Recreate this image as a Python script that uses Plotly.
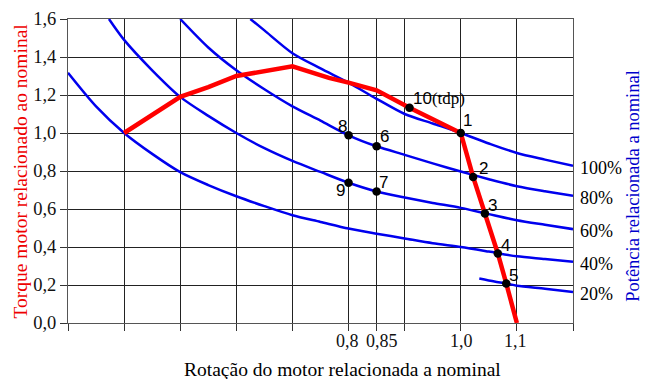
import plotly.graph_objects as go

# ---- data ----
rot_100 = [0.625, 0.65, 0.7, 0.75, 0.8, 0.85, 0.9, 0.95, 1.0, 1.05, 1.1, 1.15, 1.2]
torque_100 = [1.6, 1.54, 1.42, 1.34, 1.265, 1.18, 1.10, 1.05, 1.0, 0.945, 0.895, 0.86, 0.827]

rot_80 = [0.5, 0.55, 0.6, 0.65, 0.7, 0.75, 0.8, 0.85, 0.9, 0.95, 1.0, 1.05, 1.1, 1.15, 1.2]
torque_80 = [1.6, 1.45, 1.33, 1.23, 1.14, 1.065, 0.988, 0.93, 0.885, 0.84, 0.797, 0.757, 0.72, 0.693, 0.669]

rot_60 = [0.373, 0.4, 0.45, 0.5, 0.55, 0.6, 0.65, 0.7, 0.75, 0.8, 0.85, 0.9, 0.95, 1.0, 1.05, 1.1, 1.15, 1.2]
torque_60 = [1.6, 1.49, 1.33, 1.19, 1.09, 1.0, 0.92, 0.853, 0.795, 0.738, 0.692, 0.66, 0.632, 0.606, 0.573, 0.541, 0.517, 0.494]

rot_40 = [0.3, 0.35, 0.4, 0.45, 0.5, 0.55, 0.6, 0.65, 0.7, 0.75, 0.8, 0.85, 0.9, 0.95, 1.0, 1.05, 1.1, 1.15, 1.2]
torque_40 = [1.317, 1.14, 1.0, 0.89, 0.794, 0.726, 0.667, 0.615, 0.567, 0.532, 0.497, 0.47, 0.445, 0.42, 0.40, 0.376, 0.351, 0.337, 0.322]

rot_20 = [1.033, 1.06, 1.081, 1.1, 1.15, 1.2]
torque_20 = [0.234, 0.218, 0.208, 0.196, 0.18, 0.163]

power_curves = [
    ("100%", rot_100, torque_100),
    ("80%", rot_80, torque_80),
    ("60%", rot_60, torque_60),
    ("40%", rot_40, torque_40),
    ("20%", rot_20, torque_20),
]

red_rot = [0.4, 0.5, 0.55, 0.6, 0.7, 0.765, 0.8, 0.85, 0.9086, 1.0, 1.022, 1.043, 1.066, 1.081, 1.1]
red_torque = [1.0, 1.19, 1.242, 1.30, 1.351, 1.29, 1.265, 1.225, 1.133, 1.0, 0.769, 0.576, 0.366, 0.208, 0.0]

pt_labels = ["1", "2", "3", "4", "5", "6", "7", "8", "9", "10(tdp)"]
pt_rot = [1.0, 1.022, 1.043, 1.066, 1.081, 0.85, 0.85, 0.8, 0.8, 0.9086]
pt_torque = [1.0, 0.769, 0.576, 0.366, 0.208, 0.93, 0.692, 0.988, 0.738, 1.133]

x_tickvals = [0.3, 0.4, 0.5, 0.6, 0.7, 0.8, 0.85, 0.9, 1.0, 1.1, 1.2]
x_ticktext = ["", "", "", "", "", "0,8", "0,85", "", "1,0", "1,1", ""]
# small horizontal nudges (px) of x tick labels as seen in the reference
x_tick_nudge = {"0,8": -1, "0,85": 5, "1,0": 1, "1,1": -1}

# label offsets (px) for point numbers
label_offsets = {
    "1": (7, 13), "2": (10, 8), "3": (8, 8), "4": (8, 8), "5": (7, 8),
    "6": (8, 10), "7": (7, 9), "8": (-6, 9), "9": (-8, -8),
}

SERIF = "Liberation Serif"
SANS = "Liberation Sans"

fig = go.Figure()

for name, xs, ys in power_curves:
    fig.add_trace(go.Scatter(x=xs, y=ys, mode="lines", name=name,
                             line=dict(color="#0000ee", width=2.5, shape="spline", smoothing=0.8),
                             hoverinfo="skip"))

fig.add_trace(go.Scatter(x=red_rot, y=red_torque, mode="lines",
                         line=dict(color="#ff0000", width=4.5), hoverinfo="skip"))

fig.add_trace(go.Scatter(x=pt_rot, y=pt_torque, mode="markers",
                         marker=dict(color="#000000", size=8.5), hoverinfo="skip"))

annotations = []
for lab, xv, yv in zip(pt_labels, pt_rot, pt_torque):
    if lab.startswith("10"):
        annotations.append(dict(
            x=xv, y=yv, xref="x", yref="y", showarrow=False,
            text='10<span style="font-family:Liberation Serif">(tdp)</span>',
            font=dict(family=SANS, size=17, color="#000"),
            xanchor="left", yanchor="middle", xshift=2, yshift=9))
    else:
        dx, dy = label_offsets[lab]
        annotations.append(dict(
            x=xv, y=yv, xref="x", yref="y", showarrow=False, text=lab,
            font=dict(family=SANS, size=17, color="#000"),
            xanchor="center", yanchor="middle", xshift=dx, yshift=dy))

for name, xs, ys in power_curves:
    annotations.append(dict(
        x=1.0, y=ys[-1], xref="paper", yref="y", showarrow=False, text=name,
        font=dict(family=SERIF, size=18, color="#000"),
        xanchor="left", yanchor="middle", xshift=5, yshift=-2))

# x tick labels placed at their tick values through the x scale
for tv, tt in zip(x_tickvals, x_ticktext):
    if tt:
        annotations.append(dict(
            x=tv, y=0, xref="x", yref="paper", showarrow=False, text=tt,
            font=dict(family=SERIF, size=18, color="#111111"),
            xanchor="center", yanchor="middle",
            xshift=x_tick_nudge.get(tt, 0), yshift=-18))

annotations.append(dict(
    x=-0.096, y=0.5, xref="paper", yref="paper", showarrow=False,
    text="Torque motor relacionado ao nominal", textangle=-90,
    font=dict(family=SERIF, size=19.5, color="#ee0000"),
    xanchor="center", yanchor="middle"))

annotations.append(dict(
    x=1.12, y=0.45, xref="paper", yref="paper", showarrow=False,
    text="Potência relacionada a nominal", textangle=-90,
    font=dict(family=SERIF, size=18.5, color="#0000cc"),
    xanchor="center", yanchor="middle"))

annotations.append(dict(
    x=0.544, y=-0.152, xref="paper", yref="paper", showarrow=False,
    text="Rotação do motor relacionada a nominal",
    font=dict(family=SERIF, size=19.5, color="#000"),
    xanchor="center", yanchor="middle"))

fig.update_layout(
    width=645, height=379,
    margin=dict(l=68, r=72, t=19, b=56),
    paper_bgcolor="white", plot_bgcolor="white",
    showlegend=False,
    separators=", ",
    annotations=annotations,
    xaxis=dict(range=[0.3, 1.2], tickmode="array", tickvals=x_tickvals,
               ticktext=[""] * len(x_tickvals),
               tickangle=0, automargin=False,
               showgrid=True, gridcolor="#222222", gridwidth=1,
               showline=True, linecolor="#555555", linewidth=1, mirror=True,
               ticks="outside", ticklen=7, tickcolor="#333333",
               tickfont=dict(family=SERIF, size=18, color="#111111"),
               zeroline=False, fixedrange=True),
    yaxis=dict(range=[0, 1.6], dtick=0.2, tick0=0, tickformat=".1f", automargin=False,
               showgrid=True, gridcolor="#222222", gridwidth=1,
               showline=True, linecolor="#555555", linewidth=1, mirror=True,
               ticks="outside", ticklen=7, tickcolor="#333333",
               tickfont=dict(family=SERIF, size=18.5, color="#111111"),
               zeroline=False, fixedrange=True),
)

fig.write_html("out.html")
